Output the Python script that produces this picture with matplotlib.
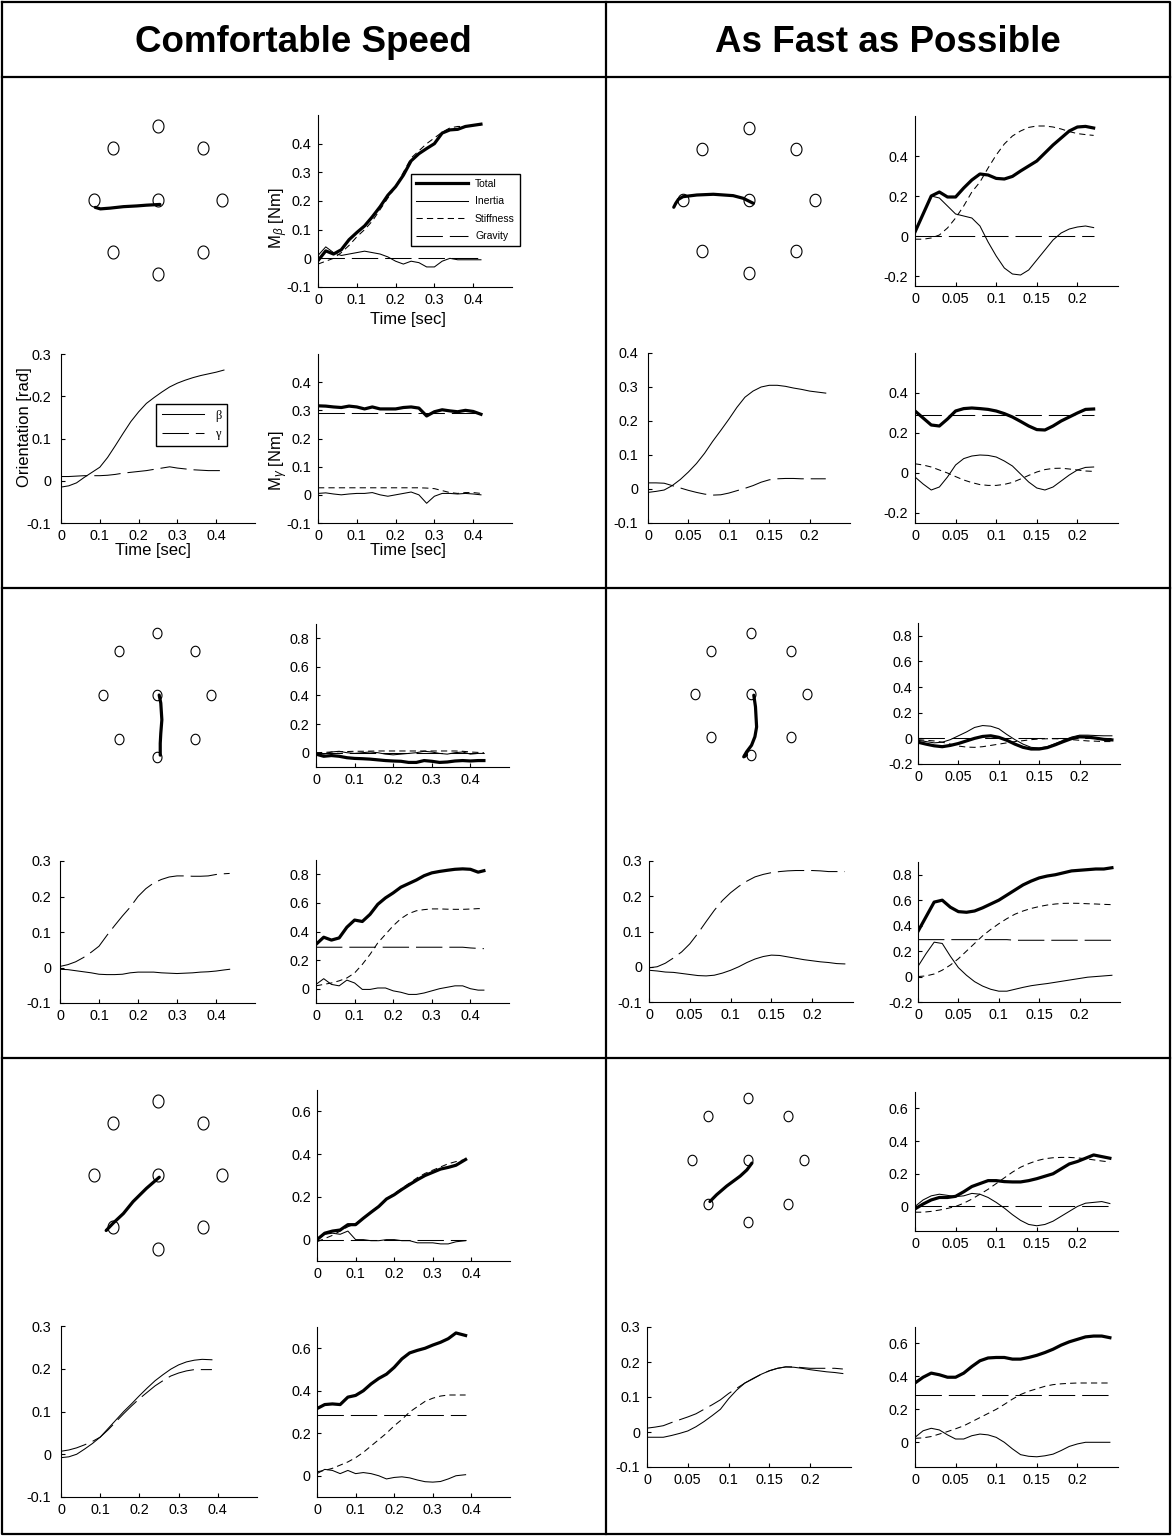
import numpy as np
import matplotlib
matplotlib.use("Agg")
import matplotlib.pyplot as plt
from matplotlib.lines import Line2D
from matplotlib.path import Path
from matplotlib.ticker import FuncFormatter

plt.rcParams["font.family"] = ["Liberation Sans", "DejaVu Sans"]
plt.rcParams["mathtext.fontset"] = "custom"
plt.rcParams["mathtext.rm"] = "Liberation Sans"
plt.rcParams["mathtext.it"] = "Liberation Sans:italic"
plt.rcParams["mathtext.sf"] = "Liberation Sans"
plt.rcParams["axes.unicode_minus"] = False
plt.rcParams["lines.scale_dashes"] = False

W, H = 1172, 1536

# ---------------------------------------------------------------- targets
target_x = [0.0, 1.0, 0.707, 0.0, -0.707, -1.0, -0.707, 0.0, 0.707]
target_y = [0.0, 0.0, 0.707, 1.0, 0.707, 0.0, -0.707, -1.0, -0.707]

# ---------------------------------------------------------------- comfortable speed, leftward
traj_x_c_left = [0.03, -0.18, -0.33, -0.54, -0.75, -0.90, -0.98]
traj_y_c_left = [-0.06, -0.07, -0.08, -0.09, -0.11, -0.12, -0.10]
t_c_left = [0.00, 0.02, 0.04, 0.06, 0.08, 0.10, 0.12, 0.14, 0.16, 0.18, 0.20,
            0.22, 0.24, 0.26, 0.28, 0.30, 0.32, 0.34, 0.36, 0.38, 0.40, 0.42]
mb_total_c_left = [-0.008, 0.026, 0.015, 0.030, 0.065, 0.090, 0.113, 0.145, 0.180, 0.220, 0.250,
                   0.290, 0.340, 0.365, 0.383, 0.400, 0.437, 0.448, 0.450, 0.460, 0.464, 0.468]
mb_inert_c_left = [0.010, 0.040, 0.020, 0.010, 0.015, 0.020, 0.025, 0.020, 0.015, 0.005, -0.010,
                   -0.020, -0.010, -0.015, -0.030, -0.030, -0.010, 0.000, -0.005, -0.005, -0.005, -0.005]
mb_stiff_c_left = [-0.020, -0.010, 0.000, 0.020, 0.045, 0.075, 0.100, 0.130, 0.170, 0.210, 0.250,
                   0.300, 0.350, 0.375, 0.400, 0.420, 0.440, 0.455, 0.460, 0.460, 0.465, 0.465]
mb_grav_c_left = [0.0, 0.0, 0.0, 0.0, 0.0, 0.0, 0.0, 0.0, 0.0, 0.0, 0.0,
                  0.0, 0.0, 0.0, 0.0, 0.0, 0.0, 0.0, 0.0, 0.0, 0.0, 0.0]
mg_total_c_left = [0.316, 0.315, 0.312, 0.310, 0.315, 0.312, 0.305, 0.312, 0.305, 0.305, 0.305,
                   0.310, 0.312, 0.308, 0.280, 0.295, 0.302, 0.298, 0.295, 0.300, 0.296, 0.286]
mg_inert_c_left = [0.005, 0.007, 0.003, 0.000, 0.003, 0.005, 0.005, 0.008, 0.000, -0.005, 0.000,
                   0.005, 0.010, 0.000, -0.030, -0.005, 0.005, 0.005, 0.003, 0.005, 0.003, 0.000]
mg_stiff_c_left = [0.025, 0.025, 0.025, 0.025, 0.025, 0.025, 0.025, 0.025, 0.025, 0.025, 0.025,
                   0.025, 0.025, 0.025, 0.024, 0.022, 0.015, 0.008, 0.005, 0.008, 0.008, 0.005]
mg_grav_c_left = [0.290, 0.290, 0.290, 0.290, 0.290, 0.290, 0.290, 0.290, 0.290, 0.290, 0.290,
                  0.290, 0.290, 0.290, 0.290, 0.290, 0.290, 0.290, 0.290, 0.290, 0.290, 0.290]
beta_c_left = [-0.015, -0.012, -0.005, 0.008, 0.020, 0.032, 0.055, 0.083, 0.112, 0.140, 0.163,
               0.183, 0.197, 0.210, 0.222, 0.231, 0.238, 0.244, 0.249, 0.253, 0.257, 0.262]
gamma_c_left = [0.010, 0.010, 0.011, 0.012, 0.012, 0.012, 0.013, 0.015, 0.018, 0.020, 0.022,
                0.024, 0.027, 0.030, 0.033, 0.030, 0.028, 0.026, 0.025, 0.024, 0.024, 0.024]

# ---------------------------------------------------------------- as fast as possible, leftward
traj_x_f_left = [0.065, -0.086, -0.24, -0.54, -0.79, -1.00, -1.07, -1.11, -1.14]
traj_y_f_left = [-0.046, 0.023, 0.060, 0.079, 0.069, 0.046, 0.009, -0.046, -0.10]
t_f_left = [0.00, 0.01, 0.02, 0.03, 0.04, 0.05, 0.06, 0.07, 0.08, 0.09, 0.10, 0.11,
            0.12, 0.13, 0.14, 0.15, 0.16, 0.17, 0.18, 0.19, 0.20, 0.21, 0.22]
mb_total_f_left = [0.020, 0.110, 0.200, 0.220, 0.195, 0.195, 0.240, 0.280, 0.310, 0.305, 0.288, 0.285,
                   0.298, 0.325, 0.350, 0.375, 0.415, 0.455, 0.490, 0.525, 0.545, 0.548, 0.540]
mb_inert_f_left = [0.020, 0.110, 0.200, 0.190, 0.150, 0.110, 0.100, 0.090, 0.050, -0.030, -0.100, -0.160,
                   -0.190, -0.195, -0.170, -0.120, -0.070, -0.020, 0.015, 0.035, 0.045, 0.050, 0.042]
mb_stiff_f_left = [-0.016, -0.016, -0.010, 0.005, 0.040, 0.090, 0.150, 0.220, 0.270, 0.340, 0.405, 0.460,
                   0.500, 0.525, 0.543, 0.550, 0.550, 0.545, 0.535, 0.522, 0.512, 0.507, 0.503]
mb_grav_f_left = [0.0, 0.0, 0.0, 0.0, 0.0, 0.0, 0.0, 0.0, 0.0, 0.0, 0.0, 0.0,
                  0.0, 0.0, 0.0, 0.0, 0.0, 0.0, 0.0, 0.0, 0.0, 0.0, 0.0]
mg_total_f_left = [0.310, 0.275, 0.240, 0.235, 0.270, 0.310, 0.322, 0.325, 0.322, 0.318, 0.310, 0.297,
                   0.280, 0.258, 0.235, 0.217, 0.215, 0.235, 0.260, 0.280, 0.300, 0.318, 0.320]
mg_inert_f_left = [-0.020, -0.055, -0.085, -0.070, -0.020, 0.040, 0.072, 0.085, 0.090, 0.088, 0.080, 0.060,
                   0.035, -0.005, -0.045, -0.075, -0.085, -0.070, -0.040, -0.010, 0.015, 0.028, 0.030]
mg_stiff_f_left = [0.046, 0.040, 0.030, 0.015, 0.000, -0.018, -0.035, -0.048, -0.058, -0.062, -0.062, -0.057,
                   -0.047, -0.030, -0.012, 0.005, 0.017, 0.023, 0.024, 0.020, 0.015, 0.010, 0.008]
mg_grav_f_left = [0.292, 0.292, 0.292, 0.292, 0.292, 0.292, 0.292, 0.292, 0.292, 0.292, 0.292, 0.292,
                  0.292, 0.292, 0.292, 0.292, 0.292, 0.292, 0.292, 0.292, 0.292, 0.292, 0.292]
beta_f_left = [-0.010, -0.007, -0.003, 0.010, 0.028, 0.050, 0.075, 0.105, 0.140, 0.172, 0.205, 0.240,
               0.270, 0.288, 0.300, 0.305, 0.305, 0.302, 0.297, 0.293, 0.288, 0.285, 0.282]
gamma_f_left = [0.018, 0.018, 0.017, 0.010, 0.003, -0.004, -0.010, -0.015, -0.018, -0.017, -0.012, -0.005,
                0.002, 0.010, 0.020, 0.027, 0.030, 0.031, 0.031, 0.030, 0.030, 0.030, 0.030]

# ---------------------------------------------------------------- comfortable speed, downward
traj_x_c_down = [0.04, 0.07, 0.09, 0.07, 0.06, 0.06]
traj_y_c_down = [0.00, -0.13, -0.40, -0.62, -0.78, -0.97]
t_c_down = [0.00, 0.02, 0.04, 0.06, 0.08, 0.10, 0.12, 0.14, 0.16, 0.18, 0.20, 0.22,
            0.24, 0.26, 0.28, 0.30, 0.32, 0.34, 0.36, 0.38, 0.40, 0.42, 0.435]
mb_total_c_down = [-0.010, -0.025, -0.020, -0.025, -0.035, -0.040, -0.042, -0.045, -0.050, -0.055, -0.058, -0.060,
                   -0.068, -0.068, -0.055, -0.060, -0.068, -0.065, -0.058, -0.055, -0.058, -0.055, -0.055]
mb_inert_c_down = [0.000, -0.010, 0.005, 0.010, 0.000, -0.005, 0.000, 0.005, 0.000, -0.010, -0.015, -0.010,
                   -0.005, 0.000, 0.010, 0.005, -0.005, -0.010, 0.000, 0.005, -0.010, -0.005, -0.005]
mb_stiff_c_down = [0.000, 0.002, 0.005, 0.007, 0.008, 0.010, 0.010, 0.011, 0.012, 0.012, 0.012, 0.012,
                   0.012, 0.012, 0.012, 0.012, 0.012, 0.012, 0.012, 0.010, 0.005, 0.002, 0.000]
mb_grav_c_down = [0.0, 0.0, 0.0, 0.0, 0.0, 0.0, 0.0, 0.0, 0.0, 0.0, 0.0, 0.0,
                  0.0, 0.0, 0.0, 0.0, 0.0, 0.0, 0.0, 0.0, 0.0, 0.0, 0.0]
mg_total_c_down = [0.310, 0.360, 0.340, 0.355, 0.430, 0.480, 0.470, 0.520, 0.590, 0.635, 0.670, 0.710,
                   0.735, 0.760, 0.790, 0.810, 0.820, 0.828, 0.835, 0.838, 0.835, 0.815, 0.825]
mg_inert_c_down = [0.030, 0.070, 0.030, 0.020, 0.060, 0.040, -0.005, -0.005, 0.005, 0.005, -0.015, -0.025,
                   -0.040, -0.040, -0.030, -0.015, 0.000, 0.010, 0.020, 0.020, 0.000, -0.010, -0.010]
mg_stiff_c_down = [0.020, 0.030, 0.040, 0.055, 0.075, 0.110, 0.170, 0.240, 0.320, 0.380, 0.440, 0.490,
                   0.525, 0.545, 0.553, 0.558, 0.558, 0.556, 0.555, 0.555, 0.557, 0.560, 0.560]
mg_grav_c_down = [0.290, 0.290, 0.290, 0.290, 0.290, 0.290, 0.290, 0.290, 0.290, 0.290, 0.290, 0.290,
                  0.290, 0.290, 0.290, 0.290, 0.290, 0.290, 0.290, 0.290, 0.285, 0.282, 0.280]
gamma_c_down = [0.003, 0.008, 0.016, 0.028, 0.043, 0.060, 0.090, 0.118, 0.145, 0.170, 0.200, 0.222,
                0.238, 0.248, 0.255, 0.258, 0.258, 0.257, 0.257, 0.258, 0.262, 0.264, 0.265]
beta_c_down = [-0.005, -0.006, -0.009, -0.012, -0.015, -0.019, -0.020, -0.020, -0.019, -0.015, -0.013, -0.013,
               -0.013, -0.015, -0.016, -0.017, -0.016, -0.015, -0.013, -0.012, -0.010, -0.007, -0.005]

# ---------------------------------------------------------------- as fast as possible, downward
traj_x_f_down = [0.05, 0.08, 0.10, 0.07, 0.01, -0.08, -0.13, -0.08]
traj_y_f_down = [-0.02, -0.21, -0.54, -0.70, -0.84, -0.95, -1.03, -1.00]
t_f_down = [0.00, 0.01, 0.02, 0.03, 0.04, 0.05, 0.06, 0.07, 0.08, 0.09, 0.10, 0.11, 0.12,
            0.13, 0.14, 0.15, 0.16, 0.17, 0.18, 0.19, 0.20, 0.21, 0.22, 0.23, 0.24]
mb_total_f_down = [-0.030, -0.045, -0.058, -0.065, -0.055, -0.040, -0.020, 0.000, 0.015, 0.020, 0.008, -0.015, -0.045,
                   -0.070, -0.083, -0.083, -0.072, -0.050, -0.025, -0.002, 0.012, 0.010, 0.002, -0.008, -0.012]
mb_inert_f_down = [-0.015, -0.025, -0.035, -0.030, -0.010, 0.020, 0.050, 0.085, 0.100, 0.095, 0.075, 0.030, -0.010,
                   -0.045, -0.070, -0.075, -0.065, -0.040, -0.015, 0.010, 0.025, 0.025, 0.022, 0.020, 0.020]
mb_stiff_f_down = [-0.010, -0.015, -0.020, -0.030, -0.045, -0.060, -0.068, -0.070, -0.065, -0.055, -0.045, -0.035, -0.025,
                   -0.018, -0.010, -0.005, -0.003, -0.003, -0.005, -0.010, -0.015, -0.020, -0.022, -0.025, -0.025]
mb_grav_f_down = [0.0, 0.0, 0.0, 0.0, 0.0, 0.0, 0.0, 0.0, 0.0, 0.0, 0.0, 0.0, 0.0,
                  0.0, 0.0, 0.0, 0.0, 0.0, 0.0, 0.0, 0.0, 0.0, 0.0, 0.0, 0.0]
mg_total_f_down = [0.355, 0.470, 0.585, 0.600, 0.545, 0.510, 0.505, 0.515, 0.540, 0.570, 0.600, 0.640, 0.680,
                   0.720, 0.750, 0.775, 0.790, 0.800, 0.815, 0.830, 0.835, 0.840, 0.845, 0.845, 0.855]
mg_inert_f_down = [0.080, 0.180, 0.270, 0.260, 0.160, 0.070, 0.010, -0.040, -0.075, -0.100, -0.115, -0.115, -0.100,
                   -0.085, -0.072, -0.063, -0.055, -0.045, -0.035, -0.025, -0.015, -0.005, 0.000, 0.005, 0.010]
mg_stiff_f_down = [0.000, 0.005, 0.020, 0.050, 0.090, 0.140, 0.200, 0.260, 0.320, 0.370, 0.415, 0.455, 0.490,
                   0.515, 0.535, 0.550, 0.562, 0.570, 0.575, 0.576, 0.575, 0.572, 0.570, 0.567, 0.565]
mg_grav_f_down = [0.290, 0.290, 0.290, 0.290, 0.290, 0.290, 0.290, 0.290, 0.290, 0.290, 0.290, 0.290, 0.285,
                  0.285, 0.285, 0.285, 0.285, 0.285, 0.285, 0.285, 0.285, 0.285, 0.285, 0.285, 0.285]
gamma_f_down = [-0.003, 0.000, 0.010, 0.025, 0.042, 0.065, 0.095, 0.128, 0.160, 0.188, 0.210, 0.228, 0.243,
                0.255, 0.262, 0.267, 0.270, 0.272, 0.273, 0.273, 0.273, 0.272, 0.270, 0.270, 0.270]
beta_f_down = [-0.010, -0.012, -0.015, -0.016, -0.019, -0.022, -0.025, -0.026, -0.024, -0.018, -0.010, 0.000, 0.012,
               0.022, 0.029, 0.033, 0.032, 0.028, 0.024, 0.020, 0.017, 0.014, 0.012, 0.009, 0.008]

# ---------------------------------------------------------------- comfortable speed, down-left
traj_x_c_dl = [0.02, -0.18, -0.39, -0.54, -0.70, -0.81]
traj_y_c_dl = [-0.03, -0.18, -0.36, -0.52, -0.65, -0.75]
t_c_dl = [0.00, 0.02, 0.04, 0.06, 0.08, 0.10, 0.12, 0.14, 0.16, 0.18,
          0.20, 0.22, 0.24, 0.26, 0.28, 0.30, 0.32, 0.34, 0.36, 0.385]
mb_total_c_dl = [0.000, 0.030, 0.040, 0.045, 0.070, 0.070, 0.100, 0.128, 0.155, 0.190,
                 0.210, 0.235, 0.258, 0.280, 0.300, 0.315, 0.330, 0.338, 0.348, 0.375]
mb_inert_c_dl = [0.000, 0.025, 0.030, 0.025, 0.040, 0.000, 0.000, -0.005, -0.005, 0.000,
                 0.000, -0.005, -0.005, -0.015, -0.015, -0.015, -0.020, -0.020, -0.010, -0.005]
mb_stiff_c_dl = [-0.010, 0.005, 0.020, 0.040, 0.060, 0.075, 0.100, 0.130, 0.160, 0.190,
                 0.215, 0.240, 0.265, 0.290, 0.310, 0.325, 0.340, 0.355, 0.365, 0.375]
mb_grav_c_dl = [0.0, 0.0, 0.0, 0.0, 0.0, 0.0, 0.0, 0.0, 0.0, 0.0,
                0.0, 0.0, 0.0, 0.0, 0.0, 0.0, 0.0, 0.0, 0.0, 0.0]
mg_total_c_dl = [0.316, 0.335, 0.338, 0.335, 0.370, 0.378, 0.400, 0.432, 0.458, 0.478,
                 0.510, 0.550, 0.578, 0.590, 0.600, 0.615, 0.628, 0.645, 0.672, 0.660]
mg_inert_c_dl = [0.010, 0.030, 0.025, 0.010, 0.025, 0.010, 0.015, 0.010, 0.000, -0.015,
                 -0.008, -0.005, -0.010, -0.020, -0.028, -0.030, -0.027, -0.015, 0.000, 0.005]
mg_stiff_c_dl = [0.019, 0.025, 0.035, 0.050, 0.065, 0.085, 0.110, 0.140, 0.170, 0.200,
                 0.235, 0.265, 0.300, 0.325, 0.350, 0.365, 0.375, 0.380, 0.380, 0.380]
mg_grav_c_dl = [0.288, 0.288, 0.288, 0.288, 0.288, 0.288, 0.288, 0.288, 0.288, 0.288,
                0.288, 0.288, 0.288, 0.288, 0.288, 0.288, 0.288, 0.288, 0.288, 0.288]
beta_c_dl = [-0.008, -0.006, 0.000, 0.012, 0.025, 0.040, 0.060, 0.080, 0.100, 0.118,
             0.137, 0.155, 0.172, 0.186, 0.199, 0.209, 0.216, 0.220, 0.222, 0.221]
gamma_c_dl = [0.007, 0.010, 0.015, 0.022, 0.030, 0.040, 0.057, 0.076, 0.095, 0.113,
              0.130, 0.145, 0.160, 0.172, 0.183, 0.190, 0.195, 0.198, 0.198, 0.198]

# ---------------------------------------------------------------- as fast as possible, down-left
traj_x_f_dl = [0.07, -0.02, -0.14, -0.38, -0.56, -0.68]
traj_y_f_dl = [-0.05, -0.16, -0.26, -0.42, -0.56, -0.67]
t_f_dl = [0.00, 0.01, 0.02, 0.03, 0.04, 0.05, 0.06, 0.07, 0.08, 0.09, 0.10, 0.11, 0.12,
          0.13, 0.14, 0.15, 0.16, 0.17, 0.18, 0.19, 0.20, 0.21, 0.22, 0.23, 0.24]
mb_total_f_dl = [-0.015, 0.015, 0.040, 0.055, 0.055, 0.062, 0.090, 0.122, 0.140, 0.158, 0.158, 0.152, 0.150,
                 0.150, 0.158, 0.170, 0.185, 0.200, 0.230, 0.260, 0.275, 0.295, 0.315, 0.305, 0.295]
mb_inert_f_dl = [0.000, 0.040, 0.065, 0.075, 0.068, 0.060, 0.065, 0.080, 0.075, 0.055, 0.025, -0.010, -0.050,
                 -0.085, -0.110, -0.118, -0.110, -0.090, -0.060, -0.030, 0.000, 0.020, 0.025, 0.030, 0.018]
mb_stiff_f_dl = [-0.035, -0.035, -0.030, -0.022, -0.012, 0.000, 0.020, 0.045, 0.075, 0.105, 0.140, 0.175, 0.210,
                 0.240, 0.262, 0.280, 0.292, 0.298, 0.300, 0.300, 0.297, 0.292, 0.285, 0.278, 0.272]
mb_grav_f_dl = [0.0, 0.0, 0.0, 0.0, 0.0, 0.0, 0.0, 0.0, 0.0, 0.0, 0.0, 0.0, 0.0,
                0.0, 0.0, 0.0, 0.0, 0.0, 0.0, 0.0, 0.0, 0.0, 0.0, 0.0, 0.0]
mg_total_f_dl = [0.360, 0.395, 0.420, 0.410, 0.395, 0.395, 0.420, 0.460, 0.495, 0.512, 0.515, 0.515, 0.505,
                 0.505, 0.515, 0.528, 0.545, 0.565, 0.590, 0.610, 0.625, 0.640, 0.645, 0.645, 0.635]
mg_inert_f_dl = [0.030, 0.070, 0.085, 0.075, 0.045, 0.020, 0.020, 0.040, 0.050, 0.045, 0.030, 0.000, -0.040,
                 -0.075, -0.085, -0.088, -0.082, -0.072, -0.050, -0.025, -0.010, 0.000, 0.000, 0.000, 0.000]
mg_stiff_f_dl = [0.024, 0.027, 0.035, 0.050, 0.065, 0.082, 0.100, 0.125, 0.150, 0.175, 0.200, 0.230, 0.262,
                 0.290, 0.310, 0.325, 0.340, 0.350, 0.355, 0.358, 0.360, 0.360, 0.360, 0.360, 0.360]
mg_grav_f_dl = [0.287, 0.287, 0.287, 0.287, 0.287, 0.287, 0.287, 0.287, 0.287, 0.287, 0.287, 0.287, 0.287,
                0.287, 0.287, 0.287, 0.287, 0.287, 0.287, 0.287, 0.287, 0.287, 0.287, 0.287, 0.287]
gamma_f_dl = [0.011, 0.014, 0.018, 0.027, 0.035, 0.043, 0.052, 0.065, 0.078, 0.092, 0.110, 0.125, 0.140,
              0.153, 0.165, 0.175, 0.182, 0.186, 0.186, 0.184, 0.182, 0.182, 0.182, 0.182, 0.180]
beta_f_dl = [-0.015, -0.015, -0.015, -0.010, -0.004, 0.003, 0.015, 0.030, 0.047, 0.065, 0.095, 0.120, 0.140,
             0.152, 0.165, 0.175, 0.182, 0.186, 0.185, 0.182, 0.178, 0.175, 0.172, 0.170, 0.167]

# ---------------------------------------------------------------- axis ticks and texts
xticks_comf = [0, 0.1, 0.2, 0.3, 0.4]
xticks_fast = [0, 0.05, 0.1, 0.15, 0.2]
column_titles = ["Comfortable Speed", "As Fast as Possible"]
moment_labels = ["Total", "Inertia", "Stiffness", "Gravity"]
angle_labels = ["\u03b2", "\u03b3"]

# ---------------------------------------------------------------- styles
THIN = 0.75
THICK = 2.3
SHORT_DASH = (0, (4.5, 3.0))
LONG_DASH = (0, (19, 5))
TICK_FS = 10.4
LABEL_FS = 12.0

fig = plt.figure(figsize=(W / 100, H / 100), dpi=100)


def px_axes(x0, y0, x1, y1):
    return fig.add_axes([x0 / W, 1 - y1 / H, (x1 - x0) / W, (y1 - y0) / H])


def fig_line(xs, ys, lw=1.5):
    fig.add_artist(Line2D([x / W for x in xs], [1 - y / H for y in ys],
                          transform=fig.transFigure, color="k", lw=lw,
                          solid_capstyle="projecting"))


fmt = FuncFormatter(lambda v, p: "%g" % v)


def time_axes(box, xlim, xticks, ylim, yticks, ypad=5.0, xpad=4.0):
    ax = px_axes(*box)
    ax.set_xlim(*xlim)
    ax.set_ylim(*ylim)
    ax.set_xticks(xticks)
    ax.set_yticks(yticks)
    ax.xaxis.set_major_formatter(fmt)
    ax.yaxis.set_major_formatter(fmt)
    for s in ("top", "right"):
        ax.spines[s].set_visible(False)
    for s in ("left", "bottom"):
        ax.spines[s].set_linewidth(0.8)
    ax.tick_params(direction="in", length=3, width=0.8, labelsize=TICK_FS)
    ax.tick_params(axis="y", pad=ypad)
    ax.tick_params(axis="x", pad=xpad)
    ax.patch.set_alpha(0)
    return ax


def label_axes(ax, ylabel, xlab_xy, ylab_xy):
    ax.set_xlabel("Time [sec]", fontsize=LABEL_FS)
    ax.set_ylabel(ylabel, fontsize=LABEL_FS)
    ax.xaxis.set_label_coords(*xlab_xy)
    ax.yaxis.set_label_coords(*ylab_xy)
    ax.xaxis.label.set_va("center")
    ax.yaxis.label.set_va("center")


def moment_plot(ax, t, total, inert, stiff, grav):
    hg, = ax.plot(t, grav, color="k", lw=THIN, ls=LONG_DASH)
    hs, = ax.plot(t, stiff, color="k", lw=THIN, ls=SHORT_DASH)
    hi, = ax.plot(t, inert, color="k", lw=THIN)
    ht, = ax.plot(t, total, color="k", lw=THICK, solid_joinstyle="round")
    return [ht, hi, hs, hg]


def angle_plot(ax, t, beta, gamma):
    hb, = ax.plot(t, beta, color="k", lw=THIN)
    hg, = ax.plot(t, gamma, color="k", lw=THIN, ls=LONG_DASH)
    return [hb, hg]


def ellipse_marker(aspect):
    th = np.linspace(0, 2 * np.pi, 49)
    return Path(np.column_stack([aspect * np.cos(th), np.sin(th)]), closed=True)


def target_plot(cx, cy, rx, ry, mk_h, mk_w, px, py):
    ax = px_axes(cx - 1.5 * rx, cy - 1.5 * ry, cx + 1.5 * rx, cy + 1.5 * ry)
    ax.set_xlim(-1.5, 1.5)
    ax.set_ylim(-1.5, 1.5)
    ax.axis("off")
    ax.plot(target_x, target_y, ls="none", marker=ellipse_marker(mk_w / mk_h),
            ms=mk_h * 0.72, mfc="none", mec="k", mew=0.8)
    ax.plot(px, py, color="k", lw=THICK, solid_capstyle="round", solid_joinstyle="round")
    return ax


# ---------------------------------------------------------------- table frame and titles
fig_line([2, 1170, 1170, 2, 2], [2, 2, 1534, 1534, 2], lw=1.6)
fig_line([2, 1170], [77, 77], lw=1.6)
fig_line([2, 1170], [588, 588], lw=1.6)
fig_line([2, 1170], [1058, 1058], lw=1.6)
fig_line([606, 606], [2, 1534], lw=1.6)
fig.text(303 / W, 1 - 43 / H, column_titles[0], ha="center", va="center",
         fontsize=26.5, fontweight="bold")
fig.text(888 / W, 1 - 43 / H, column_titles[1], ha="center", va="center",
         fontsize=26.5, fontweight="bold")

# ---------------------------------------------------------------- row 1: leftward
target_plot(158, 200, 64, 74, 13, 11, traj_x_c_left, traj_y_c_left)
ax = time_axes((318, 115, 512, 287), (0, 0.5), xticks_comf, (-0.1, 0.5),
               [-0.1, 0, 0.1, 0.2, 0.3, 0.4])
hs = moment_plot(ax, t_c_left, mb_total_c_left, mb_inert_c_left, mb_stiff_c_left, mb_grav_c_left)
label_axes(ax, r"M$_\beta$ [Nm]", (0.464, -0.19), (-0.20, 0.40))
leg = ax.legend(hs, moment_labels, loc="upper left",
                bbox_to_anchor=(411 / W, 1 - 174 / H), bbox_transform=fig.transFigure,
                fontsize=7.5, handlelength=5.0, handletextpad=0.7, labelspacing=0.72,
                borderpad=0.45, borderaxespad=0, fancybox=False, framealpha=1,
                edgecolor="k")
leg.get_frame().set_linewidth(1.0)

ax = time_axes((61, 354, 255, 523), (0, 0.5), xticks_comf, (-0.1, 0.3),
               [-0.1, 0, 0.1, 0.2, 0.3], ypad=7.0)
hs = angle_plot(ax, t_c_left, beta_c_left, gamma_c_left)
label_axes(ax, "Orientation [rad]", (0.474, -0.16), (-0.19, 0.568))
leg = ax.legend(hs, angle_labels, loc="upper left",
                bbox_to_anchor=(156 / W, 1 - 404 / H), bbox_transform=fig.transFigure,
                prop={"family": "Liberation Serif", "size": 9}, handlelength=3.4,
                handletextpad=0.9, labelspacing=0.55, borderpad=0.45, borderaxespad=0,
                fancybox=False, framealpha=1, edgecolor="k")
leg.get_frame().set_linewidth(1.0)

ax = time_axes((318, 354, 512, 523), (0, 0.5), xticks_comf, (-0.1, 0.5),
               [-0.1, 0, 0.1, 0.2, 0.3, 0.4])
moment_plot(ax, t_c_left, mg_total_c_left, mg_inert_c_left, mg_stiff_c_left, mg_grav_c_left)
label_axes(ax, r"M$_\gamma$ [Nm]", (0.464, -0.16), (-0.20, 0.367))

target_plot(749, 200, 66, 72.5, 12.5, 11, traj_x_f_left, traj_y_f_left)
ax = time_axes((915, 116, 1118, 286), (0, 0.25), xticks_fast, (-0.25, 0.6),
               [-0.2, 0, 0.2, 0.4])
moment_plot(ax, t_f_left, mb_total_f_left, mb_inert_f_left, mb_stiff_f_left, mb_grav_f_left)
ax = time_axes((648, 353, 850, 523), (0, 0.25), xticks_fast, (-0.1, 0.4),
               [-0.1, 0, 0.1, 0.2, 0.3, 0.4], ypad=7.0)
angle_plot(ax, t_f_left, beta_f_left, gamma_f_left)
ax = time_axes((915, 353, 1118, 523), (0, 0.25), xticks_fast, (-0.25, 0.6),
               [-0.2, 0, 0.2, 0.4])
moment_plot(ax, t_f_left, mg_total_f_left, mg_inert_f_left, mg_stiff_f_left, mg_grav_f_left)

# ---------------------------------------------------------------- row 2: downward
target_plot(157, 695, 54, 62, 10.5, 9, traj_x_c_down, traj_y_c_down)
ax = time_axes((316, 624, 509, 767), (0, 0.5), xticks_comf, (-0.1, 0.9),
               [0, 0.2, 0.4, 0.6, 0.8])
moment_plot(ax, t_c_down, mb_total_c_down, mb_inert_c_down, mb_stiff_c_down, mb_grav_c_down)
ax = time_axes((60, 861, 255, 1003), (0, 0.5), xticks_comf, (-0.1, 0.3),
               [-0.1, 0, 0.1, 0.2, 0.3], ypad=6.5)
angle_plot(ax, t_c_down, beta_c_down, gamma_c_down)
ax = time_axes((316, 860, 509, 1003), (0, 0.5), xticks_comf, (-0.1, 0.9),
               [0, 0.2, 0.4, 0.6, 0.8])
moment_plot(ax, t_c_down, mg_total_c_down, mg_inert_c_down, mg_stiff_c_down, mg_grav_c_down)

target_plot(751, 694, 56, 61, 10.5, 9, traj_x_f_down, traj_y_f_down)
ax = time_axes((918, 623, 1120, 764), (0, 0.25), xticks_fast, (-0.2, 0.9),
               [-0.2, 0, 0.2, 0.4, 0.6, 0.8], ypad=4.0)
moment_plot(ax, t_f_down, mb_total_f_down, mb_inert_f_down, mb_stiff_f_down, mb_grav_f_down)
ax = time_axes((649, 861, 853, 1002), (0, 0.25), xticks_fast, (-0.1, 0.3),
               [-0.1, 0, 0.1, 0.2, 0.3], ypad=5.0)
angle_plot(ax, t_f_down, beta_f_down, gamma_f_down)
ax = time_axes((918, 862, 1120, 1002), (0, 0.25), xticks_fast, (-0.2, 0.9),
               [-0.2, 0, 0.2, 0.4, 0.6, 0.8], ypad=4.0)
moment_plot(ax, t_f_down, mg_total_f_down, mg_inert_f_down, mg_stiff_f_down, mg_grav_f_down)

# ---------------------------------------------------------------- row 3: down-left
target_plot(158, 1175, 64, 74, 13, 11, traj_x_c_dl, traj_y_c_dl)
ax = time_axes((317, 1090, 510, 1261), (0, 0.5), xticks_comf, (-0.1, 0.7),
               [0, 0.2, 0.4, 0.6], ypad=4.5)
moment_plot(ax, t_c_dl, mb_total_c_dl, mb_inert_c_dl, mb_stiff_c_dl, mb_grav_c_dl)
ax = time_axes((61, 1326, 257, 1497), (0, 0.5), xticks_comf, (-0.1, 0.3),
               [-0.1, 0, 0.1, 0.2, 0.3], ypad=7.0)
angle_plot(ax, t_c_dl, beta_c_dl, gamma_c_dl)
ax = time_axes((317, 1327, 510, 1497), (0, 0.5), xticks_comf, (-0.1, 0.7),
               [0, 0.2, 0.4, 0.6], ypad=4.5)
moment_plot(ax, t_c_dl, mg_total_c_dl, mg_inert_c_dl, mg_stiff_c_dl, mg_grav_c_dl)

target_plot(748, 1160, 56, 62, 10.5, 9, traj_x_f_dl, traj_y_f_dl)
ax = time_axes((915, 1092, 1118, 1231), (0, 0.25), xticks_fast, (-0.15, 0.7),
               [0, 0.2, 0.4, 0.6], ypad=5.0)
moment_plot(ax, t_f_dl, mb_total_f_dl, mb_inert_f_dl, mb_stiff_f_dl, mb_grav_f_dl)
ax = time_axes((647, 1327, 851, 1467), (0, 0.25), xticks_fast, (-0.1, 0.3),
               [-0.1, 0, 0.1, 0.2, 0.3], ypad=5.0)
angle_plot(ax, t_f_dl, beta_f_dl, gamma_f_dl)
ax = time_axes((915, 1327, 1118, 1467), (0, 0.25), xticks_fast, (-0.15, 0.7),
               [0, 0.2, 0.4, 0.6], ypad=5.0)
moment_plot(ax, t_f_dl, mg_total_f_dl, mg_inert_f_dl, mg_stiff_f_dl, mg_grav_f_dl)

fig.savefig("out.png", dpi=100, facecolor="white")
